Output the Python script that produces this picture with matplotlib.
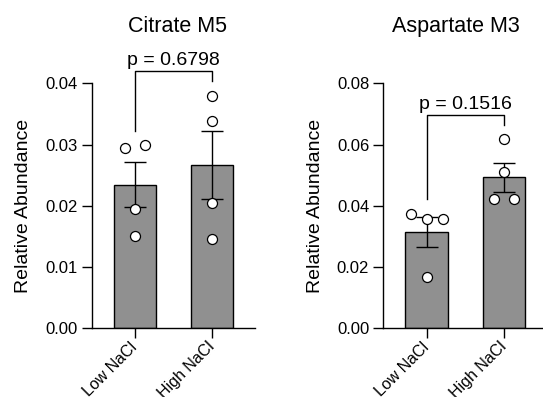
import numpy as np
import matplotlib.pyplot as plt

plt.rcParams['font.family'] = ['Liberation Sans', 'DejaVu Sans']

grupos = ["Low NaCl", "High NaCl"]

citrato_low = [0.0294, 0.0299, 0.0194, 0.0151]
citrato_high = [0.0380, 0.0338, 0.0204, 0.0145]
aspartato_low = [0.0374, 0.0357, 0.0357, 0.0169]
aspartato_high = [0.0617, 0.0511, 0.0422, 0.0422]

titulos = ["Citrate M5", "Aspartate M3"]
p_valores = ["p = 0.6798", "p = 0.1516"]
y_max = [0.04, 0.08]
y_paso = [0.01, 0.02]

DPI = 100
ALTO_EJE_PX = 245.0
ANCHO_GRUPO_PX = 77.3
COLOR_BARRA = '#909090'


def swarm(valores, y_px):
    # separa en horizontal los puntos que se pisan en vertical
    valores = np.asarray(valores)
    orden = np.argsort(valores)
    offs = np.zeros(len(valores))
    filas = [[orden[0]]]
    for k in orden[1:]:
        if (valores[k] - valores[filas[-1][-1]]) / y_px < 10:
            filas[-1].append(k)
        else:
            filas.append([k])
    for fila in filas:
        n = len(fila)
        if n < 2:
            continue
        paso = 20 if n == 2 else 16
        for i, k in enumerate(sorted(fila)):
            offs[k] = (i - (n - 1) / 2) * paso / ANCHO_GRUPO_PX
    return offs


def GRAF_BARRAS(ax, datos, titulo, p_txt, ymax, paso, tx):
    y_px = ymax / ALTO_EJE_PX
    x = np.arange(len(datos))
    medias = [np.mean(d) for d in datos]
    sem = [np.std(d, ddof=1) / np.sqrt(len(d)) for d in datos]

    ax.bar(x, medias, width=0.547, color=COLOR_BARRA, edgecolor='black',
           linewidth=1.0, zorder=1)
    ax.errorbar(x, medias, yerr=sem, fmt='none', ecolor='black',
                elinewidth=1.0, capsize=7.6, capthick=1.0, zorder=2)
    for i, d in enumerate(datos):
        ax.plot(i + swarm(d, y_px), d, 'o', ms=7.2, mfc='white', mec='black',
                mew=0.9, zorder=3, clip_on=False)

    # corchete con el p valor
    patas = [max(d) + 14.5 * y_px for d in datos]
    tope = max(patas) + 10 * y_px
    ax.plot([0, 0, 1, 1], [patas[0], tope, tope, patas[1]], color='black',
            lw=1.0, clip_on=False)
    ax.text(0.5, tope + 6 * y_px, p_txt, ha='center', va='baseline',
            fontsize=14)

    ax.set_xlim(-0.56, 1.555)
    ax.set_ylim(0, ymax)
    ax.set_yticks(np.arange(0, ymax + paso / 2, paso))
    ax.yaxis.set_major_formatter(plt.FormatStrFormatter('%.2f'))
    ax.set_xticks(x)
    ax.set_xticklabels(grupos, rotation=45, ha='right', va='center',
                       rotation_mode='anchor', fontsize=11.5)
    ax.tick_params(axis='both', length=7.2, width=1.0, pad=3)
    ax.tick_params(axis='y', labelsize=12)
    ax.tick_params(axis='x', pad=4.5)
    for s in ['top', 'right']:
        ax.spines[s].set_visible(False)
    for s in ['left', 'bottom']:
        ax.spines[s].set_linewidth(1.0)

    fig.text(tx, 1 - 31.7 / 397, titulo, ha='center', va='baseline',
             fontsize=15.5)


fig = plt.figure(figsize=(5.43, 3.97), dpi=DPI)
ax1 = fig.add_axes([91.7 / 543, 68.7 / 397, 163.3 / 543, ALTO_EJE_PX / 397])
ax2 = fig.add_axes([383.3 / 543, 68.7 / 397, 163.3 / 543, ALTO_EJE_PX / 397])

GRAF_BARRAS(ax1, [citrato_low, citrato_high], titulos[0], p_valores[0],
            y_max[0], y_paso[0], 177.5 / 543)
GRAF_BARRAS(ax2, [aspartato_low, aspartato_high], titulos[1], p_valores[1],
            y_max[1], y_paso[1], 456.0 / 543)

fig.text(24 / 543, 1 - 205.8 / 397, "Relative Abundance", rotation=90,
         ha='center', va='center', fontsize=14)
fig.text(315 / 543, 1 - 205.8 / 397, "Relative Abundance", rotation=90,
         ha='center', va='center', fontsize=14)

plt.savefig("out.png", dpi=DPI)
